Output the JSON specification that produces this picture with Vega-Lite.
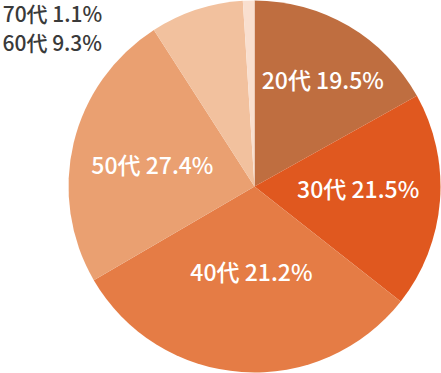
{
  "$schema": "https://vega.github.io/schema/vega-lite/v6.json",
  "width": 373,
  "height": 373,
  "autosize": {"type": "none"},
  "padding": {"left": 68, "top": 0, "right": 0, "bottom": 0},
  "background": "white",
  "config": {"view": {"stroke": null}, "text": {"font": "Noto Sans CJK JP", "fontSize": 23, "fontWeight": 500}},
  "data": {"values": [
    {"age": "20代", "rank": 1, "share": 16.9, "label": "20代 19.5%"},
    {"age": "30代", "rank": 2, "share": 18.7, "label": "30代 21.5%"},
    {"age": "40代", "rank": 3, "share": 31.0, "label": "40代 21.2%"},
    {"age": "50代", "rank": 4, "share": 24.3, "label": "50代 27.4%"},
    {"age": "60代", "rank": 5, "share": 8.1, "label": "60代 9.3%"},
    {"age": "70代", "rank": 6, "share": 1.0, "label": "70代 1.1%"}
  ]},
  "encoding": {
    "theta": {"field": "share", "type": "quantitative", "stack": true},
    "order": {"field": "rank", "type": "quantitative"}
  },
  "layer": [
    {
      "mark": {"type": "arc", "outerRadius": 186},
      "encoding": {
        "color": {"field": "age", "type": "nominal", "legend": null,
          "scale": {"domain": ["20代", "30代", "40代", "50代", "60代", "70代"],
                    "range": ["#BF6E40", "#E0581F", "#E57C45", "#EAA071", "#F2C19E", "#F9DFCF"]}}
      }
    },
    {
      "mark": {"type": "text", "radius": 125, "color": "white", "align": "center", "baseline": "middle", "dx": 5, "dy": 3},
      "encoding": {"text": {"condition": {"test": "datum.age === '20代'", "field": "label"}, "value": ""}}
    },
    {
      "mark": {"type": "text", "radius": 104, "color": "white", "align": "center", "baseline": "middle", "dy": -4},
      "encoding": {"text": {"condition": {"test": "datum.age === '30代'", "field": "label"}, "value": ""}}
    },
    {
      "mark": {"type": "text", "radius": 88, "color": "white", "align": "center", "baseline": "middle", "dx": 3},
      "encoding": {"text": {"condition": {"test": "datum.age === '40代'", "field": "label"}, "value": ""}}
    },
    {
      "mark": {"type": "text", "radius": 104, "color": "white", "align": "center", "baseline": "middle", "dx": -1, "dy": 5},
      "encoding": {"text": {"condition": {"test": "datum.age === '50代'", "field": "label"}, "value": ""}}
    },
    {
      "mark": {"type": "text", "radius": 186, "color": "#3a3a3a", "fontSize": 21, "align": "left", "baseline": "middle", "dx": -194, "dy": 35},
      "encoding": {"text": {"condition": {"test": "datum.age === '60代'", "field": "label"}, "value": ""}}
    },
    {
      "mark": {"type": "text", "radius": 186, "color": "#3a3a3a", "fontSize": 21, "align": "left", "baseline": "middle", "dx": -246, "dy": 15},
      "encoding": {"text": {"condition": {"test": "datum.age === '70代'", "field": "label"}, "value": ""}}
    }
  ]
}
